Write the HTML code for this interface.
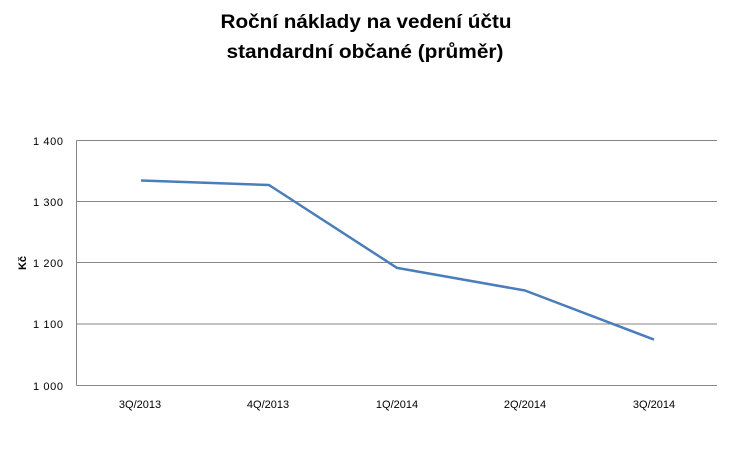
<!DOCTYPE html>
<html><head><meta charset="utf-8"><style>
html,body{margin:0;padding:0;background:#fff;}
body{width:731px;height:454px;overflow:hidden;}
</style></head><body>
<svg width="731" height="454" xmlns="http://www.w3.org/2000/svg" font-family="Liberation Sans, DejaVu Sans, sans-serif">
<text x="366" y="28" text-anchor="middle" font-size="19" font-weight="bold" fill="#000" textLength="291" lengthAdjust="spacingAndGlyphs">Roční náklady na vedení účtu</text>
<text x="365" y="58" text-anchor="middle" font-size="19" font-weight="bold" fill="#000" textLength="277" lengthAdjust="spacingAndGlyphs">standardní občané (průměr)</text>
<g stroke="#868686" stroke-width="1">
<line x1="76.5" y1="140.5" x2="717" y2="140.5"/>
<line x1="76.5" y1="201.5" x2="717" y2="201.5"/>
<line x1="76.5" y1="262.5" x2="717" y2="262.5"/>
<line x1="76.5" y1="324" x2="717" y2="324"/>
<line x1="76.5" y1="385.5" x2="717" y2="385.5"/>
<line x1="76.5" y1="140.5" x2="76.5" y2="385.5"/>
</g>
<g font-size="11" fill="#000" text-anchor="end">
<text x="63" y="145" textLength="30">1 400</text>
<text x="63" y="206" textLength="30">1 300</text>
<text x="63" y="267" textLength="30">1 200</text>
<text x="63" y="328" textLength="30">1 100</text>
<text x="63" y="390" textLength="30">1 000</text>
</g>
<text transform="translate(26,263) rotate(-90)" text-anchor="middle" font-size="11" font-weight="bold">Kč</text>
<g font-size="11" fill="#000" text-anchor="middle">
<text x="140" y="408">3Q/2013</text>
<text x="268" y="408">4Q/2013</text>
<text x="397" y="408">1Q/2014</text>
<text x="525" y="408">2Q/2014</text>
<text x="654" y="408">3Q/2014</text>
</g>
<polyline fill="none" stroke="#4a7ebb" stroke-width="2.5" stroke-linejoin="round" points="141,180.5 269,185 397,267.9 525,290.5 654,339.6"/>
</svg>
</body></html>
